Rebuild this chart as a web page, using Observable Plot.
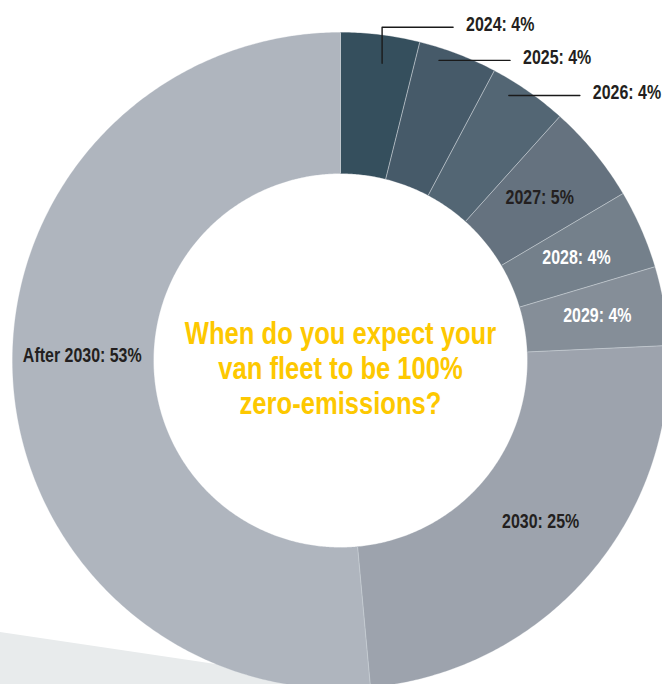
<!DOCTYPE html>
<html><head><meta charset="utf-8">
<script src="https://cdn.jsdelivr.net/npm/d3@7"></script>
<script src="https://cdn.jsdelivr.net/npm/@observablehq/plot@0.6"></script>
<style>
html,body{margin:0;padding:0;background:#fff;}
#wrap{position:relative;width:662px;height:684px;overflow:hidden;}
#bg{position:absolute;left:0;top:0;width:662px;height:684px;background:#e8ebec;clip-path:polygon(0 632px,350px 684px,0 684px);}
#chart{position:absolute;left:0;top:0;}
</style></head><body>
<div id="wrap"><div id="bg"></div><div id="chart"></div></div>
<script>
// ---- data ----
const years = ["2024", "2025", "2026", "2027", "2028", "2029", "2030", "After 2030"];
const shares = [4, 4, 4, 5, 4, 4, 25, 53];
const sliceColors = ["#354f5d", "#465a69", "#536674", "#65727f", "#74808b", "#858e98", "#9da3ad", "#afb5be"];
const labelColors = ["#231f20", "#231f20", "#231f20", "#231f20", "#ffffff", "#ffffff", "#231f20", "#231f20"];
const question = "When do you expect your\nvan fleet to be 100%\nzero-emissions?";

// ---- layout ----
const W = 662, H = 684, CX = 340, CY = 360, R = 328, INNER = 187 / 328;
const FONT = "'Liberation Sans', Arial, sans-serif";
const outside = [ // leader layout for the small slices at the top
  {i: 0, t: 0.57, r: 0.915, rise: 36},
  {i: 1, t: 0.30, r: 0.963, rise: 0},
  {i: 2, t: 0.32, r: 0.957, rise: 0}
];
const nudge = {5: [3, -2], 6: [6, -8], 7: [-1, -17]}; // pixel nudges for inner labels
const LEAD = 71, GAP = 13;

const total = d3.sum(shares);
let acc = 0;
const slices = years.map((y, i) => {
  const a0 = acc / total * 2 * Math.PI; acc += shares[i];
  const a1 = acc / total * 2 * Math.PI;
  return {i, year: y, share: shares[i], a0, a1, mid: (a0 + a1) / 2,
          color: sliceColors[i], textColor: labelColors[i], label: `${y}: ${shares[i]}%`};
});
const pt = (a, r) => ({x: r * Math.sin(a), y: r * Math.cos(a)});
function ring(s) {
  const pts = [];
  const n = Math.max(8, Math.ceil((s.a1 - s.a0) / (Math.PI / 360)));
  for (let k = 0; k <= n; k++) pts.push(pt(s.a0 + (s.a1 - s.a0) * k / n, 1));
  for (let k = n; k >= 0; k--) pts.push(pt(s.a0 + (s.a1 - s.a0) * k / n, INNER));
  return pts;
}
const sliceMarks = slices.map(s => Plot.line(ring(s), {x: "x", y: "y", fill: s.color, stroke: s.color, strokeWidth: 0.3}));

const seps = slices.map(s => ({x1: INNER * Math.sin(s.a0), y1: INNER * Math.cos(s.a0), x2: Math.sin(s.a0), y2: Math.cos(s.a0)}));

const leaderPts = [];
const outLabels = [];
for (const o of outside) {
  const s = slices[o.i];
  const a = pt(s.a0 + o.t * (s.a1 - s.a0), o.r);
  const ey = a.y + o.rise / R;
  leaderPts.push({k: o.i, x: a.x, y: a.y});
  if (o.rise) leaderPts.push({k: o.i, x: a.x, y: ey});
  leaderPts.push({k: o.i, x: a.x + LEAD / R, y: ey});
  outLabels.push({x: a.x + (LEAD + GAP) / R, y: ey + 3 / R, label: s.label, color: s.textColor});
}
const inLabels = slices.filter(s => !outside.some(o => o.i === s.i)).map(s => {
  const p = pt(s.mid, (1 + INNER) / 2);
  const [dx, dy] = nudge[s.i] || [0, 0];
  return {x: p.x + dx / R, y: p.y - dy / R, label: s.label, color: s.textColor};
});

const chart = Plot.plot({
  width: W, height: H, margin: 0,
  x: {domain: [-CX / R, (W - CX) / R], range: [0, W], axis: null},
  y: {domain: [(CY - H) / R, CY / R], range: [H, 0], axis: null},
  style: {background: "transparent", overflow: "visible"},
  marks: [
    ...sliceMarks,
    Plot.link(seps, {x1: "x1", y1: "y1", x2: "x2", y2: "y2", stroke: "#c9d0d5", strokeWidth: 0.7}),
    Plot.line(leaderPts, {x: "x", y: "y", z: "k", stroke: "#1a1a1a", strokeWidth: 1.4}),
    Plot.text(outLabels, {x: "x", y: "y", text: "label", fill: "color", textAnchor: "start", fontSize: 21, fontWeight: "bold", fontFamily: FONT, className: "narrow"}),
    Plot.text(inLabels, {x: "x", y: "y", text: "label", fill: "color", fontSize: 21, fontWeight: "bold", fontFamily: FONT, className: "narrow"}),
    Plot.text([question], {x: () => 0, y: () => -7 / R, text: d => d, fill: "#fdc800", fontSize: 32, fontWeight: "bold", lineHeight: 1.09, fontFamily: FONT, className: "narrowq"})
  ]
});
// condensed look: squeeze each text horizontally about its own anchor point
function squeeze(sel, f) {
  chart.querySelectorAll(sel + " text").forEach(t => {
    const tr = t.getAttribute("transform") || "";
    t.setAttribute("transform", tr + ` scale(${f},1)`);
  });
}
squeeze(".narrow", 0.76);
squeeze(".narrowq", 0.8);
document.getElementById("chart").appendChild(chart);
</script>
</body></html>
